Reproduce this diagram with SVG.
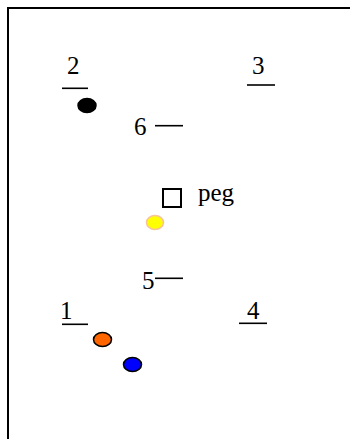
<svg xmlns="http://www.w3.org/2000/svg" width="350" height="439" viewBox="0 0 350 439">
<style>
.t{font-family:"Liberation Serif","Times New Roman",serif;font-size:25px;fill:#000}
.ln{stroke:#000;stroke-width:1.6;fill:none}
.dot{stroke:#000;stroke-width:1.5}
</style>
<rect x="0" y="0" width="350" height="439" fill="#fff"/>
<rect id="frame" x="8" y="8" width="360" height="450" fill="none" stroke="#000" stroke-width="2"/>
<g id="connectors">
<line class="ln" x1="62" y1="88.3" x2="88" y2="88.3"/>
<line class="ln" x1="247" y1="85" x2="275" y2="85"/>
<line class="ln" x1="155" y1="125.7" x2="183" y2="125.7"/>
<line class="ln" x1="155" y1="278.3" x2="183" y2="278.3"/>
<line class="ln" x1="62" y1="324.3" x2="88" y2="324.3"/>
<line class="ln" x1="239" y1="323.3" x2="267" y2="323.3"/>
</g>
<g id="label2"><text class="t" x="67" y="74">2</text></g>
<g id="label3"><text class="t" x="252" y="74">3</text></g>
<g id="label6"><text class="t" x="134" y="135">6</text></g>
<g id="label5"><text class="t" x="142" y="289">5</text></g>
<g id="label1"><text class="t" x="60" y="319">1</text></g>
<g id="label4"><text class="t" x="247" y="319">4</text></g>
<g id="peg">
<rect x="163" y="189" width="18" height="18" fill="none" stroke="#000" stroke-width="2"/>
<text class="t" x="198" y="201">peg</text>
</g>
<g id="black-ball"><ellipse class="dot" cx="87" cy="105.5" rx="9" ry="7" fill="#000"/></g>
<g id="yellow-ball"><ellipse cx="155" cy="222.5" rx="8.5" ry="7" fill="#ffff00" stroke="#f7c49a" stroke-width="1.5"/></g>
<g id="orange-ball"><ellipse class="dot" cx="102.5" cy="339.5" rx="9" ry="7" fill="#ff6600"/></g>
<g id="blue-ball"><ellipse class="dot" cx="132.5" cy="364.5" rx="9" ry="7" fill="#0000ff"/></g>
</svg>
